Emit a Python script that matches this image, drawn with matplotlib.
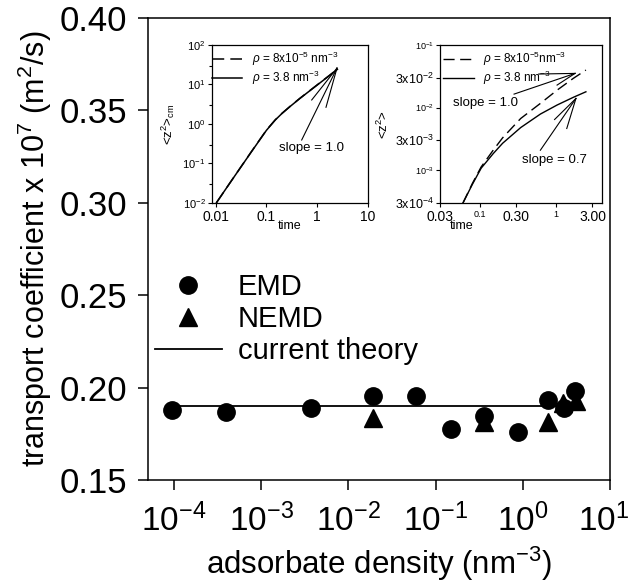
import matplotlib
matplotlib.use('Agg')
import matplotlib.pyplot as plt
import matplotlib.transforms as mtransforms
from matplotlib.lines import Line2D
from matplotlib.ticker import FixedLocator, FixedFormatter, NullLocator

plt.rcParams['font.family'] = ['Liberation Sans', 'DejaVu Sans']
plt.rcParams['mathtext.fontset'] = 'custom'
plt.rcParams['mathtext.rm'] = 'Liberation Sans'
plt.rcParams['mathtext.it'] = 'Liberation Sans:italic'
plt.rcParams['mathtext.bf'] = 'Liberation Sans:bold'

# ---------------- main panel data ----------------
emd_density = [9.4e-5, 3.9e-4, 3.7e-3, 0.019, 0.059, 0.148, 0.359, 0.89, 1.92, 2.94, 3.99]
emd_coeff = [0.188, 0.187, 0.189, 0.1955, 0.1955, 0.1775, 0.1845, 0.1758, 0.1935, 0.189, 0.198]
nemd_density = [0.019, 0.359, 1.92, 2.9, 4.1]
nemd_coeff = [0.1835, 0.1815, 0.1815, 0.1915, 0.1925]
theory_density = [9.4e-5, 3.0]
theory_coeff = [0.19, 0.19]
legend_labels = ['EMD', 'NEMD', 'current theory']
main_xticks = [1e-4, 1e-3, 1e-2, 1e-1, 1e0, 1e1]
main_xticklabels = [r'$10^{-4}$', r'$10^{-3}$', r'$10^{-2}$', r'$10^{-1}$', r'$10^{0}$', r'$10^{1}$']
main_yticks = [0.15, 0.20, 0.25, 0.30, 0.35, 0.40]
main_yticklabels = ['0.15', '0.20', '0.25', '0.30', '0.35', '0.40']

# ---------------- inset 1 data (<z^2>_cm) ----------------
in1_t_low = [0.0104, 0.02, 0.05, 0.1, 0.15, 0.2, 0.3, 0.458, 0.7, 1.0, 1.78, 2.5]
in1_z_low = [0.0102, 0.035, 0.195, 0.70, 1.285, 1.84, 2.88, 4.49, 6.86, 9.8, 17.4, 24.5]
in1_t_high = [0.0104, 0.02, 0.05, 0.1, 0.15, 0.2, 0.3, 0.458, 0.7, 1.0, 1.78, 2.5]
in1_z_high = [0.0102, 0.035, 0.193, 0.69, 1.27, 1.82, 2.85, 4.45, 6.8, 9.7, 17.2, 24.2]
in1_fan_t = [0.495, 0.78, 1.49]
in1_fan_z = [0.394, 4.06, 2.65]
in1_fan_end = (2.45, 26.0)
in1_xticks = [0.01, 0.1, 1, 10]
in1_xticklabels = ['0.01', '0.1', '1', '10']
in1_yticks = [1e-2, 1e-1, 1e0, 1e1, 1e2]
in1_yticklabels = [r'$10^{-2}$', r'$10^{-1}$', r'$10^{0}$', r'$10^{1}$', r'$10^{2}$']
in1_yminor = [3e-2, 3e-1, 3e0, 3e1]

# ---------------- inset 2 data (<z^2>) ----------------
in2_t_low = [0.060, 0.08, 0.104, 0.15, 0.199, 0.343, 0.623, 1.03, 1.68, 2.46]
in2_z_low = [3.0e-4, 6.2e-4, 1.13e-3, 2.1e-3, 3.3e-3, 6.7e-3, 1.17e-2, 1.9e-2, 2.93e-2, 3.98e-2]
in2_t_high = [0.060, 0.08, 0.104, 0.15, 0.199, 0.343, 0.623, 1.03, 1.68, 2.46]
in2_z_high = [3.0e-4, 6.0e-4, 1.08e-3, 1.85e-3, 2.7e-3, 4.8e-3, 7.9e-3, 1.1e-2, 1.46e-2, 1.79e-2]
in2_fan1_t = [0.281, 0.593, 1.03]
in2_fan1_z = [0.01644, 0.0344, 0.0229]
in2_fan1_end = (1.77, 0.0352)
in2_fan2_t = [0.622, 1.38, 0.955]
in2_fan2_z = [0.00209, 0.00464, 0.00646]
in2_fan2_end = (1.82, 0.0140)
in2_xticks = [0.03, 0.1, 0.3, 1, 3]
in2_xticklabels = ['0.03', '0.1', '0.30', '1', '3.00']
in2_yticks = [3e-4, 1e-3, 3e-3, 1e-2, 3e-2, 1e-1]
in2_yticklabels = [r'3x$10^{-4}$', r'$10^{-3}$', r'3x$10^{-3}$', r'$10^{-2}$', r'3x$10^{-2}$', r'$10^{-1}$']

W, H = 631, 583
fig = plt.figure(figsize=(W / 100, H / 100), dpi=100)


def ax_rect(l, t, r, b):
    return [l / W, (H - b) / H, (r - l) / W, (b - t) / H]


# ---------------- main axes ----------------
ax = fig.add_axes(ax_rect(148, 18, 610, 480))
ax.set_xscale('log')
ax.set_xlim(10 ** -4.3, 10)
ax.set_ylim(0.15, 0.40)
ax.plot(theory_density, theory_coeff, color='black', lw=1.3, zorder=2)
ax.plot(nemd_density, nemd_coeff, linestyle='none', marker='^', ms=13, color='black', zorder=3)
ax.plot(emd_density, emd_coeff, linestyle='none', marker='o', ms=12.5, color='black', zorder=4)
ax.xaxis.set_major_locator(FixedLocator(main_xticks))
ax.xaxis.set_major_formatter(FixedFormatter(main_xticklabels))
ax.xaxis.set_minor_locator(NullLocator())
ax.yaxis.set_major_locator(FixedLocator(main_yticks))
ax.yaxis.set_major_formatter(FixedFormatter(main_yticklabels))
ax.tick_params(direction='out', length=7, width=1.1, labelsize=25, top=False, right=False)
ax.tick_params(axis='x', labelsize=24, pad=10)
ax.tick_params(axis='y', pad=8)
for s in ax.spines.values():
    s.set_linewidth(1.1)
ax.set_xlabel(r'adsorbate density (nm$^{-3}$)', fontsize=22.5, labelpad=5)
ax.set_ylabel(r'transport coefficient x 10$^{7}$ (m$^{2}$/s)', fontsize=22, labelpad=4)
# keep the last tick label inside the canvas
last_lab = ax.get_xticklabels()[-1]
last_lab.set_transform(last_lab.get_transform() +
                       mtransforms.ScaledTranslation(-6 / 100, 0, fig.dpi_scale_trans))

h_emd = Line2D([], [], linestyle='none', marker='o', ms=12.5, color='black')
h_nemd = Line2D([], [], linestyle='none', marker='^', ms=13, color='black')
h_th = Line2D([], [], color='black', lw=1.3)
ax.legend(handles=[h_emd, h_nemd, h_th], labels=legend_labels, loc='upper left',
          bbox_to_anchor=(0.015, 0.447), frameon=False, fontsize=21,
          handlelength=2.3, handletextpad=0.55, labelspacing=0.13, borderpad=0, borderaxespad=0)

# ---------------- inset 1 ----------------
a1 = fig.add_axes(ax_rect(211.7, 45, 368, 203))
a1.set_xscale('log')
a1.set_yscale('log')
a1.set_xlim(10 ** -2.077, 10)
a1.set_ylim(1e-2, 1e2)
a1.plot(in1_t_low, in1_z_low, color='black', lw=1.1, linestyle=(0, (8, 4)))
a1.plot(in1_t_high, in1_z_high, color='black', lw=1.1)
for t, z in zip(in1_fan_t, in1_fan_z):
    a1.plot([t, in1_fan_end[0]], [z, in1_fan_end[1]], color='black', lw=0.8)
a1.text(0.177, 0.246, 'slope = 1.0', fontsize=9.5, ha='left', va='center')
a1.xaxis.set_major_locator(FixedLocator(in1_xticks))
a1.xaxis.set_major_formatter(FixedFormatter(in1_xticklabels))
a1.xaxis.set_minor_locator(NullLocator())
a1.yaxis.set_major_locator(FixedLocator(in1_yticks))
a1.yaxis.set_major_formatter(FixedFormatter(in1_yticklabels))
a1.yaxis.set_minor_locator(FixedLocator(in1_yminor))
a1.tick_params(which='both', direction='out', length=3, width=0.8, top=False, right=False)
a1.tick_params(which='minor', length=2)
a1.tick_params(axis='x', labelsize=10, pad=2)
a1.tick_params(axis='y', labelsize=8, pad=1.5)
for s in a1.spines.values():
    s.set_linewidth(0.9)
a1.set_xlabel('time', fontsize=9, labelpad=2)
a1.xaxis.set_label_coords(0.5, -0.11)
a1.set_ylabel(r'<z$^2$>$_{\mathrm{cm}}$', fontsize=9.5, labelpad=4)
d1 = Line2D([], [], color='black', lw=1.1, linestyle=(0, (8, 4)))
s1 = Line2D([], [], color='black', lw=1.1)
a1.legend(handles=[d1, s1], labels=[r'$\rho$ = 8x10$^{-5}$ nm$^{-3}$', r'$\rho$ = 3.8 nm$^{-3}$'],
          loc='upper left', bbox_to_anchor=(0.0, 0.97), frameon=False, fontsize=8.5,
          handlelength=2.6, handletextpad=0.8, labelspacing=0.1, borderpad=0, borderaxespad=0)

# ---------------- inset 2 ----------------
a2 = fig.add_axes(ax_rect(440, 45, 602, 203))
a2.set_xscale('log')
a2.set_yscale('log')
a2.set_xlim(0.03, 4.0)
a2.set_ylim(3e-4, 1e-1)
a2.plot(in2_t_low, in2_z_low, color='black', lw=1.0, linestyle=(0, (8, 4)))
a2.plot(in2_t_high, in2_z_high, color='black', lw=1.0)
for t, z in zip(in2_fan1_t, in2_fan1_z):
    a2.plot([t, in2_fan1_end[0]], [z, in2_fan1_end[1]], color='black', lw=0.8)
for t, z in zip(in2_fan2_t, in2_fan2_z):
    a2.plot([t, in2_fan2_end[0]], [z, in2_fan2_end[1]], color='black', lw=0.8)
a2.text(0.0447, 0.01167, 'slope = 1.0', fontsize=9.5, ha='left', va='center')
a2.text(0.36, 0.00145, 'slope = 0.7', fontsize=9.5, ha='left', va='center')
a2.xaxis.set_major_locator(FixedLocator(in2_xticks))
a2.xaxis.set_major_formatter(FixedFormatter(in2_xticklabels))
a2.xaxis.set_minor_locator(NullLocator())
a2.yaxis.set_major_locator(FixedLocator(in2_yticks))
a2.yaxis.set_major_formatter(FixedFormatter(in2_yticklabels))
a2.yaxis.set_minor_locator(NullLocator())
a2.tick_params(which='both', direction='out', length=3, width=0.8, top=False, right=False)
a2.tick_params(axis='x', labelsize=10, pad=2)
a2.tick_params(axis='y', labelsize=9, pad=1.5)
for i, lab in enumerate(a2.get_xticklabels()):
    if in2_xticklabels[i] in ('0.1', '1'):
        lab.set_fontsize(6.5)
for i, lab in enumerate(a2.get_yticklabels()):
    if not in2_yticklabels[i].startswith('3x'):
        lab.set_fontsize(6.5)
for s in a2.spines.values():
    s.set_linewidth(0.9)
a2.set_xlabel('time', fontsize=9, labelpad=2)
a2.xaxis.set_label_coords((462 - 440) / 162, -0.11)
a2.set_ylabel(r'<z$^2$>', fontsize=9.5, labelpad=3)
d2 = Line2D([], [], color='black', lw=1.0, linestyle=(0, (8, 4)))
s2 = Line2D([], [], color='black', lw=1.0)
a2.legend(handles=[d2, s2], labels=[r'$\rho$ = 8x10$^{-5}$nm$^{-3}$', r'$\rho$ = 3.8 nm$^{-3}$'],
          loc='upper left', bbox_to_anchor=(0.02, 0.97), frameon=False, fontsize=8.5,
          handlelength=2.6, handletextpad=0.8, labelspacing=0.1, borderpad=0, borderaxespad=0)

fig.savefig('out.png', dpi=100)
